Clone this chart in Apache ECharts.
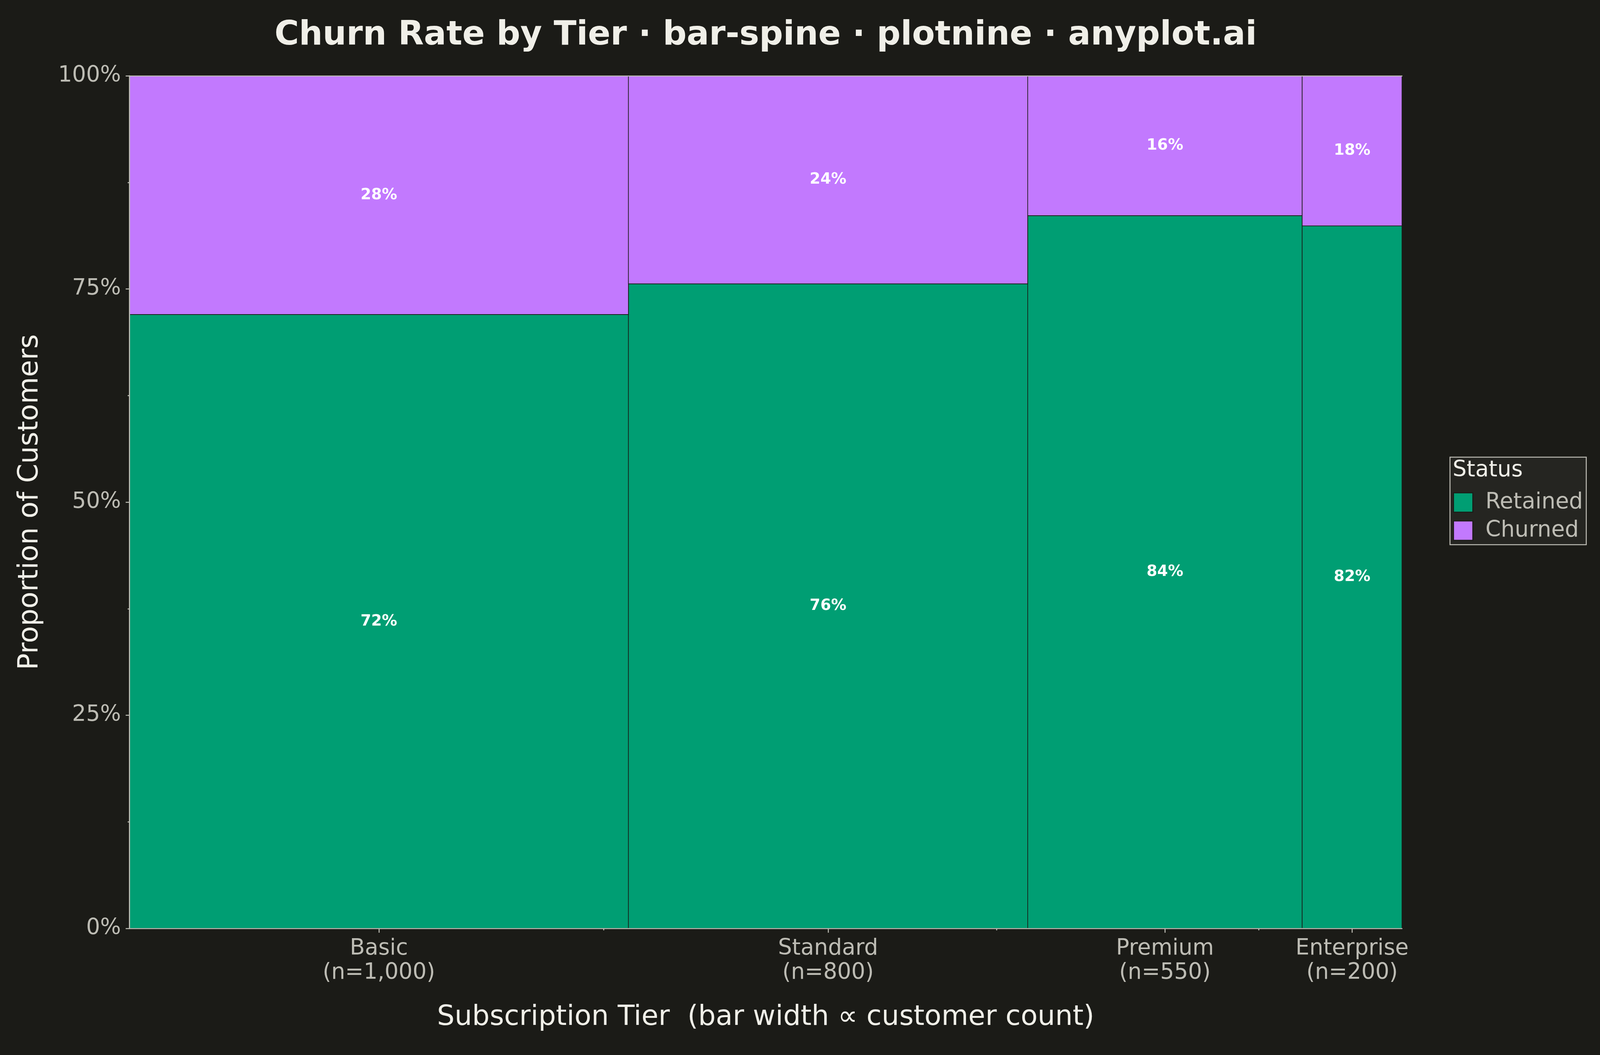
<!DOCTYPE html>
<html lang="en">
<head>
<meta charset="UTF-8">
<title>Churn Rate by Tier · bar-spine</title>
<style>
  html, body { margin: 0; padding: 0; background: #1b1b17; overflow: hidden; }
  #chart { width: 100vw; height: 100vh; }
</style>
</head>
<body>
<div id="chart"></div>
<script src="https://cdn.jsdelivr.net/npm/echarts@6.0.0/dist/echarts.min.js"></script>
<script>
// data
var tiers = ['Basic', 'Standard', 'Premium', 'Enterprise'];
var customers = [1000, 800, 550, 200];
var retainedPct = [72.0, 75.6, 83.6, 82.4];
var statusNames = ['Retained', 'Churned'];

var FONT = '"DejaVu Sans", "Noto Sans", sans-serif';
var GRAY = '#bdbcb4';
var LIGHT = '#f0efe8';
var BG = '#1b1b17';

// layout was measured on a 4800x2700 canvas, scale it to the real window
var W = window.innerWidth, H = window.innerHeight;
var sx = W / 4800, sy = H / 2700, fs = Math.min(sx, sy);
function X(v) { return v * sx; }
function Y(v) { return v * sy; }
function F(v) { return v * fs; }

// spine geometry in data units (customer counts along x)
var total = 0, starts = [], centers = [];
customers.forEach(function (n) {
    starts.push(total);
    centers.push(total + n / 2);
    total += n;
});
var minorX = [];
for (var i = 0; i < centers.length - 1; i++) {
    minorX.push((centers[i] + centers[i + 1]) / 2);
}

var retainedData = [], churnedData = [], retainedLabels = [], churnedLabels = [];
tiers.forEach(function (t, i) {
    var r = retainedPct[i] / 100;
    retainedData.push([starts[i], starts[i] + customers[i], 0, r]);
    churnedData.push([starts[i], starts[i] + customers[i], r, 1]);
    retainedLabels.push(Math.round(retainedPct[i]) + '%');
    churnedLabels.push(Math.round(100 - retainedPct[i]) + '%');
});

function spineRenderer(labels) {
    return function (params, api) {
        var p0 = api.coord([api.value(0), api.value(3)]);
        var p1 = api.coord([api.value(1), api.value(2)]);
        return {
            type: 'rect',
            shape: { x: p0[0], y: p0[1], width: p1[0] - p0[0], height: p1[1] - p0[1] },
            style: { fill: api.visual('color'), stroke: BG, lineWidth: F(2) },
            textContent: {
                style: { text: labels[params.dataIndex], fill: '#ffffff', font: 'bold ' + F(46) + 'px ' + FONT }
            },
            textConfig: { position: 'inside' }
        };
    };
}

var tickLine = { color: GRAY, width: F(3) };
var chart = echarts.init(document.getElementById('chart'));

var option = {
    backgroundColor: BG,
    animation: false,
    title: [
        {
            text: 'Churn Rate by Tier · bar-spine · plotnine · anyplot.ai',
            left: X(2297), top: Y(49), padding: 0, textAlign: 'center',
            textStyle: { color: LIGHT, fontSize: F(100), fontWeight: 'bold', fontFamily: FONT }
        },
        {
            text: 'Status',
            left: X(4358), top: Y(1176), padding: 0, z: 10,
            textStyle: { color: LIGHT, fontSize: F(66), fontWeight: 'normal', fontFamily: FONT }
        }
    ],
    legend: {
        data: statusNames,
        orient: 'vertical',
        left: X(4350), top: Y(1170),
        padding: [Y(88), X(10), Y(8), X(9)],
        itemGap: Y(16), itemWidth: F(58), itemHeight: F(58),
        icon: 'rect',
        backgroundColor: '#252521',
        borderColor: GRAY, borderWidth: F(3),
        itemStyle: { borderColor: BG, borderWidth: F(3) },
        textStyle: { color: GRAY, fontSize: F(66), fontFamily: FONT, padding: [0, 0, 0, X(32)] }
    },
    grid: { left: X(388), right: X(594), top: Y(194), bottom: Y(324), containLabel: false },
    xAxis: [
        {
            type: 'value', min: 0, max: total, position: 'bottom', z: 10,
            axisLine: { show: true, lineStyle: tickLine },
            axisTick: { show: true, customValues: centers, length: Y(11), lineStyle: tickLine },
            axisLabel: {
                customValues: centers,
                formatter: function (v) {
                    for (var k = 0; k < centers.length; k++) {
                        if (Math.abs(centers[k] - v) < 1e-6) {
                            return tiers[k] + '\n(n=' + customers[k].toLocaleString('en-US') + ')';
                        }
                    }
                    return '';
                },
                margin: Y(21), color: GRAY, fontSize: F(66), lineHeight: Y(62), fontFamily: FONT
            },
            splitLine: { show: false },
            name: 'Subscription Tier  (bar width \u221d customer count)',
            nameLocation: 'middle', nameGap: Y(193),
            nameTextStyle: { color: LIGHT, fontSize: F(83), fontFamily: FONT }
        },
        {
            type: 'value', min: 0, max: total, position: 'bottom', z: 10,
            axisLine: { show: false },
            axisTick: { show: true, customValues: minorX, length: Y(5), lineStyle: tickLine },
            axisLabel: { show: false },
            splitLine: { show: false }
        },
        {
            type: 'value', min: 0, max: total, position: 'top', z: 10,
            axisLine: { show: true, lineStyle: tickLine },
            axisTick: { show: false }, axisLabel: { show: false },
            splitLine: { show: false }
        }
    ],
    yAxis: [
        {
            type: 'value', min: 0, max: 1, interval: 0.25, z: 10,
            axisLine: { show: true, lineStyle: tickLine },
            axisTick: { show: true, length: X(11), lineStyle: tickLine },
            minorTick: { show: true, splitNumber: 2, length: X(5), lineStyle: tickLine },
            axisLabel: {
                formatter: function (v) { return Math.round(v * 100) + '%'; },
                margin: X(25), color: GRAY, fontSize: F(66), fontFamily: FONT
            },
            splitLine: { show: false }, minorSplitLine: { show: false },
            name: 'Proportion of Customers',
            nameLocation: 'middle', nameGap: X(255),
            nameTextStyle: { color: LIGHT, fontSize: F(83), fontFamily: FONT }
        },
        {
            type: 'value', min: 0, max: 1, position: 'right', z: 10,
            axisLine: { show: true, lineStyle: tickLine },
            axisTick: { show: false }, axisLabel: { show: false },
            splitLine: { show: false }
        }
    ],
    series: [
        {
            name: 'Retained', type: 'custom',
            xAxisIndex: 0, yAxisIndex: 0,
            itemStyle: { color: '#009e73' },
            encode: { x: [0, 1], y: [2, 3] },
            renderItem: spineRenderer(retainedLabels),
            data: retainedData
        },
        {
            name: 'Churned', type: 'custom',
            xAxisIndex: 0, yAxisIndex: 0,
            itemStyle: { color: '#c279fe' },
            encode: { x: [0, 1], y: [2, 3] },
            renderItem: spineRenderer(churnedLabels),
            data: churnedData
        }
    ]
};

chart.setOption(option);
</script>
</body>
</html>
